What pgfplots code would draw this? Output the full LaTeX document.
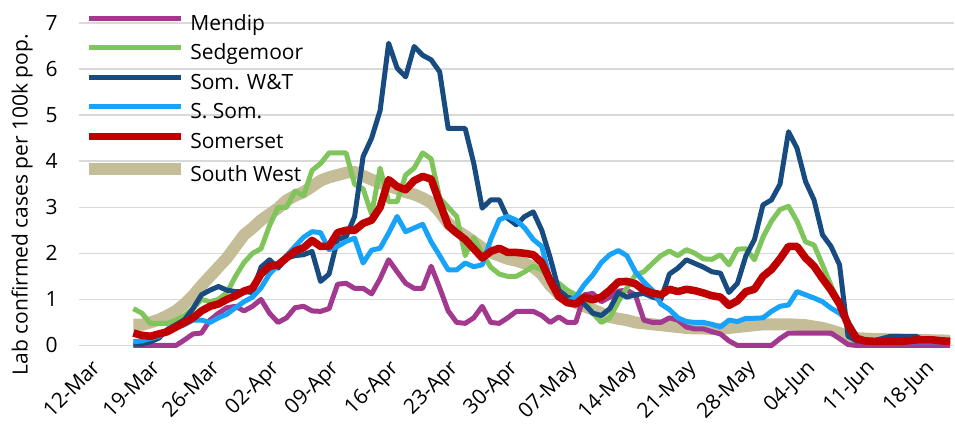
\documentclass[border=0pt]{standalone}
\usepackage{fontspec}
\setmainfont{Open Sans}
\usepackage{pgfplots}
\pgfplotsset{compat=1.18}
\usepackage{pgfplotstable}
\usetikzlibrary{calc}

\definecolor{mendip}{RGB}{162,57,143}
\definecolor{sedge}{RGB}{128,196,92}
\definecolor{somwt}{RGB}{24,76,128}
\definecolor{ssom}{RGB}{24,163,250}
\definecolor{somerset}{RGB}{192,0,0}
\definecolor{southwest}{RGB}{196,189,151}
\definecolor{gridgray}{RGB}{217,217,217}

% day 0 = 12-Mar
\pgfplotstableread{
d   M     G     B     L     R     T
6   0     0.8   0.03  0.08  0.27  0.45
7   0     0.7   0.03  0.1   0.22  0.45
8   0     0.48  0.08  0.15  0.2   0.5
9   0     0.48  0.16  0.2   0.25  0.56
10  0     0.48  0.35  0.3   0.3   0.65
11  0     0.55  0.45  0.38  0.4   0.75
12  0.12  0.65  0.56  0.45  0.5   0.9
13  0.25  0.8   0.8   0.55  0.6   1.08
14  0.27  1.0   1.1   0.55  0.75  1.3
15  0.55  0.95  1.2   0.5   0.85  1.5
16  0.7   1.0   1.28  0.6   0.9   1.7
17  0.82  1.15  1.2   0.68  1.0   1.9
18  0.85  1.5   1.17  0.82  1.08  2.15
19  0.75  1.8   1.17  0.95  1.18  2.4
20  0.85  2.0   1.15  1.05  1.24  2.55
21  1.0   2.1   1.7   1.25  1.55  2.72
22  0.7   2.6   1.86  1.55  1.72  2.85
23  0.5   3.0   1.68  1.75  1.75  2.98
24  0.6   3.0   1.9   1.95  1.9   3.15
25  0.82  3.35  1.95  2.15  2.05  3.25
26  0.85  3.25  1.97  2.35  2.12  3.33
27  0.75  3.8   2.04  2.47  2.28  3.45
28  0.74  3.95  1.39  2.45  2.15  3.58
29  0.8   4.18  1.55  2.08  2.15  3.65
30  1.33  4.18  2.3   2.15  2.45  3.7
31  1.35  4.18  2.36  2.26  2.5   3.75
32  1.24  3.5   2.8   2.33  2.5   3.77
33  1.24  3.4   4.1   1.79  2.65  3.68
34  1.12  2.85  4.5   2.07  2.72  3.6
35  1.45  3.85  5.1   2.11  3.0   3.53
36  1.86  3.12  6.56  2.44  3.6   3.46
37  1.6   3.12  6.02  2.8   3.45  3.4
38  1.35  3.7   5.83  2.47  3.38  3.33
39  1.24  3.85  6.49  2.55  3.58  3.28
40  1.24  4.18  6.3   2.63  3.67  3.2
41  1.72  4.05  6.2   2.25  3.61  3.1
42  1.25  3.2   5.94  1.95  3.1   2.9
43  0.75  3.0   4.71  1.64  2.6   2.65
44  0.5   2.8   4.71  1.64  2.44  2.5
45  0.48  1.95  4.71  1.79  2.3   2.38
46  0.6   2.35  3.96  1.71  2.1   2.25
47  0.85  2.0   2.98  1.75  1.9   2.12
48  0.5   1.7   3.16  2.3   2.04  2.02
49  0.48  1.55  3.16  2.73  2.11  1.95
50  0.6   1.5   2.76  2.8   2.02  1.88
51  0.74  1.5   2.62  2.72  2.02  1.84
52  0.74  1.6   2.8   2.55  2.0   1.78
53  0.74  1.72  2.9   2.3   1.97  1.7
54  0.65  1.64  2.5   2.15  1.8   1.55
55  0.5   1.45  1.9   1.4   1.4   1.3
56  0.62  1.35  1.2   1.05  1.06  1.12
57  0.5   1.2   1.05  0.95  0.93  1.0
58  0.5   1.1   1.0   1.05  0.9   0.93
59  1.1   1.0   0.9   1.32  1.05  0.85
60  1.13  0.7   0.7   1.53  0.99  0.78
61  0.95  0.5   0.65  1.8   1.05  0.7
62  1.05  0.6   0.8   1.97  1.2   0.62
63  1.18  0.95  1.15  2.06  1.38  0.58
64  1.2   1.25  1.05  1.95  1.39  0.55
65  1.1   1.53  1.1   1.6   1.34  0.5
66  0.55  1.6   1.13  1.38  1.2   0.48
67  0.5   1.78  1.05  1.2   1.14  0.46
68  0.5   1.95  1.0   0.9   1.1   0.44
69  0.6   2.05  1.55  0.78  1.22  0.42
70  0.55  1.95  1.68  0.6   1.17  0.4
71  0.4   2.08  1.86  0.52  1.22  0.38
72  0.36  2.0   1.78  0.5   1.19  0.37
73  0.36  1.88  1.7   0.5   1.14  0.37
74  0.3   1.87  1.6   0.46  1.08  0.36
75  0.25  1.97  1.57  0.4   1.05  0.36
76  0.1   1.75  1.15  0.55  0.87  0.38
77  0     2.09  1.35  0.52  0.97  0.4
78  0     2.1   1.95  0.59  1.17  0.42
79  0     1.86  2.3   0.59  1.22  0.44
80  0     2.35  3.05  0.6   1.5   0.46
81  0     2.7   3.16  0.74  1.65  0.46
82  0.15  2.95  3.5   0.85  1.88  0.46
83  0.27  3.02  4.64  0.88  2.15  0.46
84  0.27  2.7   4.28  1.17  2.15  0.45
85  0.27  2.25  3.56  1.1   1.9   0.44
86  0.27  2.18  3.16  1.03  1.72  0.41
87  0.27  1.75  2.4   0.95  1.45  0.38
88  0.27  1.3   2.15  0.81  1.2   0.33
89  0.15  0.9   1.75  0.7   0.9   0.27
90  0.02  0.5   0.2   0.52  0.45  0.2
91  0     0.2   0.1   0.2   0.15  0.16
92  0     0.12  0.1   0.1   0.1   0.15
93  0     0.1   0.1   0.08  0.09  0.14
94  0     0.1   0.15  0.08  0.09  0.14
95  0     0.1   0.2   0.08  0.09  0.13
96  0     0.1   0.2   0.08  0.09  0.13
97  0     0.1   0.2   0.08  0.1   0.12
98  0     0.1   0.2   0.08  0.12  0.12
99  0     0.1   0.1   0.08  0.12  0.12
100 0     0.1   0.1   0.08  0.12  0.11
101 0     0.1   0.1   0.08  0.1   0.11
102 0     0.1   0.1   0.08  0.09  0.1
}\data

\begin{document}
\begin{tikzpicture}
\begin{axis}[
    scale only axis, width=438pt, height=161.35pt,
    xmin=-0.4, xmax=102.5, ymin=0, ymax=7,
    clip=false,
    xtick={0,7,...,98},
    xticklabels={12-Mar,19-Mar,26-Mar,02-Apr,09-Apr,16-Apr,23-Apr,30-Apr,07-May,14-May,21-May,28-May,04-Jun,11-Jun,18-Jun},
    ytick={0,1,...,7},
    ymajorgrids, grid style={line width=0.75pt, gridgray},
    axis line style={draw=none}, major tick length=0pt,
    tick label style={font=\fontsize{10.5}{12}\selectfont},
    /pgf/number format/assume math mode=true,
    yticklabel style={anchor=east, inner sep=0pt, xshift=-10.5pt},
    xticklabel shift=2pt,
    xticklabel style={rotate=45, anchor=north east, inner sep=0pt, yshift=-5.8pt},
    ylabel={Lab confirmed cases per 100k pop.},
    ylabel style={font=\fontsize{10.5}{12}\selectfont, at={(axis description cs:-0.065,0.436)}, anchor=center},
    legend style={at={(axis description cs:0.0046,1.025)}, anchor=north west,
        draw=none, fill=none, inner sep=0pt, row sep=4.7pt, column sep=1.5pt,
        font=\fontsize{10.5}{12}\selectfont,
        nodes={inner sep=0pt, text height=7.6pt, text depth=2.4pt}},
    legend cell align=left,
    legend image code/.code={\draw[#1, line cap=butt] (0pt,3.5pt) -- (46pt,3.5pt);},
]
\addlegendimage{mendip, line width=2.5pt}
\addlegendimage{sedge, line width=2.5pt}
\addlegendimage{somwt, line width=2.5pt}
\addlegendimage{ssom, line width=2.5pt}
\addlegendimage{somerset, line width=3.8pt}
\addlegendimage{southwest, line width=6pt}

\addplot[southwest, line width=6pt, line join=round, forget plot] table[x=d, y=T] {\data};
\addplot[mendip, line width=2.5pt, line join=round, forget plot] table[x=d, y=M] {\data};
\addplot[sedge, line width=2.5pt, line join=round, forget plot] table[x=d, y=G] {\data};
\addplot[somwt, line width=2.5pt, line join=round, forget plot] table[x=d, y=B] {\data};
\addplot[ssom, line width=2.5pt, line join=round, forget plot] table[x=d, y=L] {\data};
\addplot[somerset, line width=3.8pt, line join=round, forget plot] table[x=d, y=R] {\data};

\legend{Mendip, Sedgemoor, Som. W\&T, S. Som., Somerset, South West}
\end{axis}
\pgfresetboundingbox
\path ($(current axis.south west)+(-39.5pt,-40.65pt)$) rectangle ($(current axis.north east)+(0.3pt,11.5pt)$);
\end{tikzpicture}
\end{document}
